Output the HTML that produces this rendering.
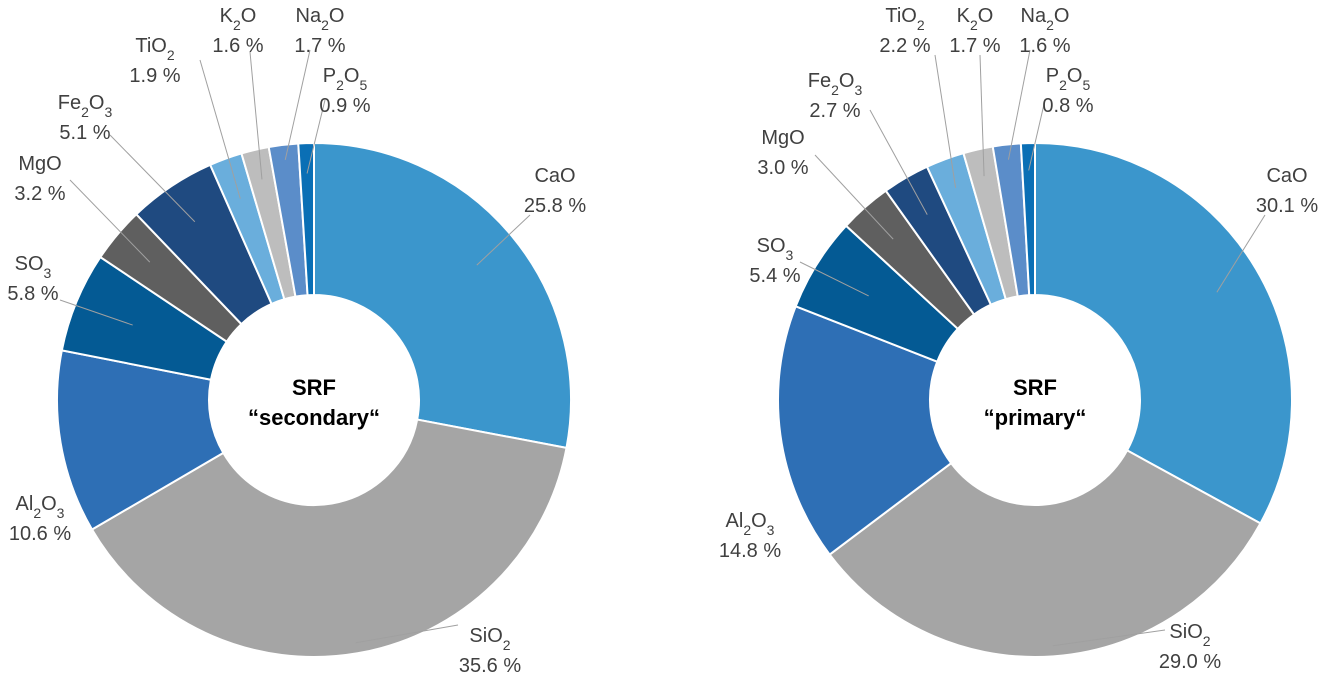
<!DOCTYPE html>
<html><head><meta charset="utf-8"><style>
html,body{margin:0;padding:0;background:#fff;}
svg text{font-family:"Liberation Sans",Arial,sans-serif;fill:#404040;font-size:20px;}
</style></head><body>
<svg id="chart" width="1323" height="695" viewBox="0 0 1323 695" xmlns="http://www.w3.org/2000/svg"></svg>
<script>
const categories = ["CaO","SiO2","Al2O3","SO3","MgO","Fe2O3","TiO2","K2O","Na2O","P2O5"];
const labelsHtml = ["CaO","SiO<tspan baseline-shift='sub' font-size='14'>2</tspan>","Al<tspan baseline-shift='sub' font-size='14'>2</tspan>O<tspan baseline-shift='sub' font-size='14'>3</tspan>","SO<tspan baseline-shift='sub' font-size='14'>3</tspan>","MgO","Fe<tspan baseline-shift='sub' font-size='14'>2</tspan>O<tspan baseline-shift='sub' font-size='14'>3</tspan>","TiO<tspan baseline-shift='sub' font-size='14'>2</tspan>","K<tspan baseline-shift='sub' font-size='14'>2</tspan>O","Na<tspan baseline-shift='sub' font-size='14'>2</tspan>O","P<tspan baseline-shift='sub' font-size='14'>2</tspan>O<tspan baseline-shift='sub' font-size='14'>5</tspan>"];
const secondaryValues = [25.8,35.6,10.6,5.8,3.2,5.1,1.9,1.6,1.7,0.9];
const primaryValues = [30.1,29.0,14.8,5.4,3.0,2.7,2.2,1.7,1.6,0.8];
const colors = ["#3b96cc","#a5a5a5","#2e6fb5","#045a94","#5f5f5f","#1f4a80","#6aaedc","#bdbdbd","#5b8dc9","#0a6fb5"];

const svg = document.getElementById('chart');
const NS = "http://www.w3.org/2000/svg";
function mk(tag, attrs){const e=document.createElementNS(NS,tag);for(const k in attrs)e.setAttribute(k,attrs[k]);svg.appendChild(e);return e;}

// label layout: [x, y(first line), leaderStartX, leaderStartY, leaderRadiusFrac]
const secLayout = [[555,182,530,215,0.7],[490,642,458,625,0.93],[40,510,null,null,0],[33,270,60,300,0.6],[40,170,70,180,0.72],[85,109,110,135,0.72],[155,52,200,60,0.72],[238,22,250,52,0.8],[320,22,310,50,0.9],[345,82,325,100,0.8]];
const priLayout = [[1287,182,1265,215,0.7],[1190,638,1165,630,0.93],[750,527,null,null,0],[775,252,800,262,0.6],[783,144,815,155,0.72],[835,87,870,110,0.72],[905,22,935,55,0.8],[975,22,980,55,0.82],[1045,22,1030,50,0.9],[1068,82,1045,100,0.82]];

function drawDonut(name, cx, cy, R, r, values, layout, title1, title2){
  const total = values.reduce((a,b)=>a+b,0);
  let a0 = 0;
  values.forEach((v,i)=>{
    const a1 = a0 + v/total*2*Math.PI;
    const p=(a,rad)=>[cx+rad*Math.sin(a), cy-rad*Math.cos(a)];
    const [x0,y0]=p(a0,R),[x1,y1]=p(a1,R),[x2,y2]=p(a1,r),[x3,y3]=p(a0,r);
    const large = (a1-a0)>Math.PI?1:0;
    const path = mk('path',{d:`M${x0},${y0} A${R},${R} 0 ${large} 1 ${x1},${y1} L${x2},${y2} A${r},${r} 0 ${large} 0 ${x3},${y3} Z`,fill:colors[i],stroke:'#fff','stroke-width':2});
    
    
    const L = layout[i];
    if(L[2]!==null){
      const mid=(a0+a1)/2; const [ex,ey]=p(mid, r+(R-r)*L[4]);
      const ln = mk('line',{x1:L[2],y1:L[3],x2:ex,y2:ey,stroke:'#a0a0a0','stroke-width':1});
      
      
    }
    const t = mk('text',{x:L[0],y:L[1],'text-anchor':'middle'});
    t.innerHTML = labelsHtml[i];
    
    
    const t2 = mk('text',{x:L[0],y:L[1]+30,'text-anchor':'middle'});
    t2.textContent = v.toFixed(1)+' %';
    
    
    a0 = a1;
  });
  const c1 = mk('text',{x:cx,y:cy-5,'text-anchor':'middle','font-weight':'bold',style:'font-size:22px;fill:#000'});
  c1.textContent = title1;
  
  
  const c2 = mk('text',{x:cx,y:cy+25,'text-anchor':'middle','font-weight':'bold',style:'font-size:22px;fill:#000'});
  c2.textContent = title2;
  
  
}
drawDonut('secondary', 314, 400, 257, 105, secondaryValues, secLayout, 'SRF', '\u201Csecondary\u201C');
drawDonut('primary', 1035, 400, 257, 105, primaryValues, priLayout, 'SRF', '\u201Cprimary\u201C');
</script>
</body></html>
